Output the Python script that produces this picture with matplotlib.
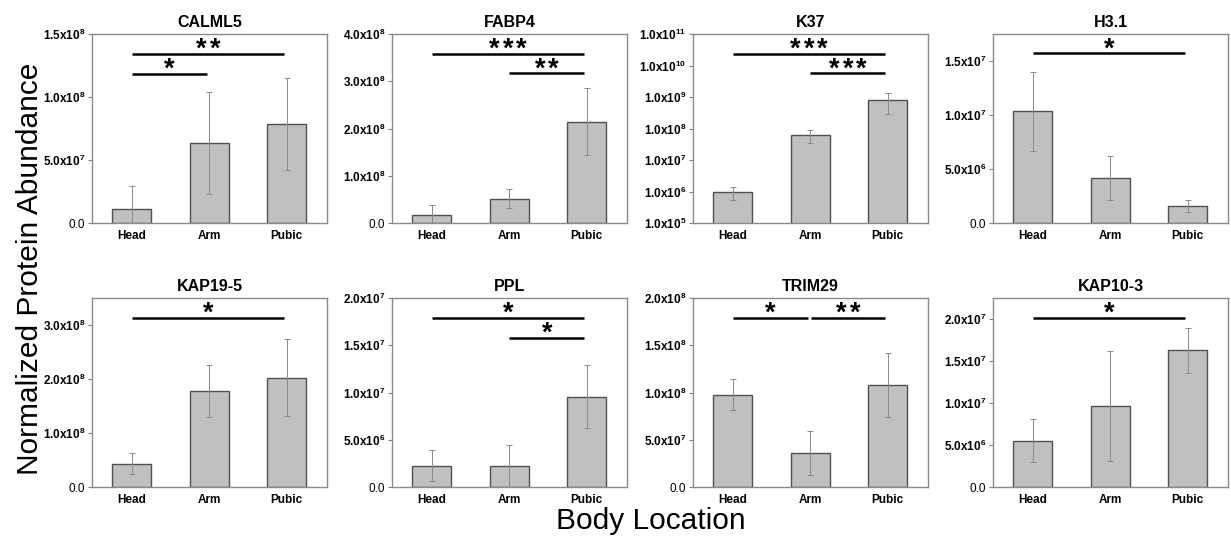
import matplotlib
matplotlib.use("Agg")
import matplotlib.pyplot as plt
from matplotlib.font_manager import FontProperties
from matplotlib.textpath import TextPath
import numpy as np

plt.rcParams['font.family'] = ['Liberation Sans', 'DejaVu Sans']
plt.rcParams['mathtext.fontset'] = 'custom'
plt.rcParams['mathtext.rm'] = 'Liberation Sans'
plt.rcParams['mathtext.bf'] = 'Liberation Sans:bold'

categories = ["Head", "Arm", "Pubic"]

proteins = ["CALML5", "FABP4", "K37", "H3.1", "KAP19-5", "PPL", "TRIM29", "KAP10-3"]

calml5_mean = [1.11e7, 6.35e7, 7.86e7]
calml5_err = [1.8e7, 4.05e7, 3.65e7]
fabp4_mean = [1.62e7, 5.15e7, 2.14e8]
fabp4_err = [2.2e7, 2.0e7, 7.1e7]
k37_mean = [9.6e5, 6.22e7, 8.03e8]
k37_err = [4.1e5, 2.7e7, 5.15e8]
h31_mean = [1.034e7, 4.14e6, 1.54e6]
h31_err = [3.67e6, 2.02e6, 0.56e6]
kap195_mean = [4.32e7, 1.772e8, 2.025e8]
kap195_err = [1.95e7, 4.8e7, 7.15e7]
ppl_mean = [2.26e6, 2.22e6, 9.56e6]
ppl_err = [1.62e6, 2.19e6, 3.3e6]
trim29_mean = [9.77e7, 3.6e7, 1.076e8]
trim29_err = [1.64e7, 2.28e7, 3.4e7]
kap103_mean = [5.52e6, 9.64e6, 1.627e7]
kap103_err = [2.54e6, 6.5e6, 2.7e6]

means = [calml5_mean, fabp4_mean, k37_mean, h31_mean,
         kap195_mean, ppl_mean, trim29_mean, kap103_mean]
errs = [calml5_err, fabp4_err, k37_err, h31_err,
        kap195_err, ppl_err, trim29_err, kap103_err]

# y limits and ticks
ylims = [(0, 1.5e8), (0, 4.0e8), (1e5, 1e11), (0, 1.75e7),
         (0, 3.5e8), (0, 2.0e7), (0, 2.0e8), (0, 2.25e7)]
yticks = [
    [0, 5e7, 1e8, 1.5e8],
    [0, 1e8, 2e8, 3e8, 4e8],
    [1e5, 1e6, 1e7, 1e8, 1e9, 1e10, 1e11],
    [0, 5e6, 1e7, 1.5e7],
    [0, 1e8, 2e8, 3e8],
    [0, 5e6, 1e7, 1.5e7, 2e7],
    [0, 5e7, 1e8, 1.5e8, 2e8],
    [0, 5e6, 1e7, 1.5e7, 2e7],
]
log_scale = [False, False, True, False, False, False, False, False]

# significance brackets: (start index, end index, height, stars)
sig = [
    [(0, 2, 1.341e8, "**"), (0, 1, 1.185e8, "*")],
    [(0, 2, 3.58e8, "***"), (1, 2, 3.17e8, "**")],
    [(0, 2, 2.38e10, "***"), (1, 2, 5.64e9, "***")],
    [(0, 2, 1.571e7, "*")],
    [(0, 2, 3.13e8, "*")],
    [(0, 2, 1.788e7, "*"), (1, 2, 1.58e7, "*")],
    [(0, 1, 1.788e8, "*"), (1, 2, 1.788e8, "**")],
    [(0, 2, 2.012e7, "*")],
]


def fmt_tick(v):
    if v == 0:
        return "0.0"
    e = int(np.floor(np.log10(v) + 1e-9))
    m = v / 10 ** e
    return r"$\mathbf{%.1fx10^{%d}}$" % (m, e)


DPI = 100
fig = plt.figure(figsize=(12.31, 5.37), dpi=DPI)
W, H = 1231, 537
lefts = [92, 392, 693, 993]
top_rows = [(34, 223), (298, 487)]
axw = 235

# star glyph metrics
star_fp = FontProperties(family='Liberation Sans', weight='bold')
ext = TextPath((0, 0), '*', size=1, prop=star_fp).get_extents()
star_h_px = 10.0
star_size_px = star_h_px / (ext.y1 - ext.y0)
star_fontsize = star_size_px * 72 / DPI
star_gap_px = 5.5      # glyph bottom above line centre
star_step_px = 13.5    # centre-to-centre spacing
px2pt = 72 / DPI
glyph_cx = (ext.x0 + ext.x1) / 2 * star_size_px

for k in range(8):
    r, c = divmod(k, 4)
    t, b = top_rows[r]
    ax = fig.add_axes([lefts[c] / W, 1 - b / H, axw / W, (b - t) / H])
    x = np.arange(len(categories))
    if log_scale[k]:
        ax.set_yscale('log')
    ax.bar(x, means[k], width=0.5, color='#c0c0c0', edgecolor='#505050',
           linewidth=1.0, zorder=2)
    ax.errorbar(x, means[k], yerr=errs[k], fmt='none', ecolor='#8a8a8a',
                elinewidth=0.7, capsize=2, capthick=0.7, zorder=3)
    ax.set_xlim(-0.51, 2.52)
    ax.set_ylim(*ylims[k])
    ax.set_yticks(yticks[k])
    ax.set_yticklabels([fmt_tick(v) for v in yticks[k]])
    ax.minorticks_off()
    ax.set_xticks(x)
    ax.set_xticklabels(categories, fontweight='bold')
    ax.tick_params(axis='x', length=0, labelsize=8.5, pad=5)
    ax.tick_params(axis='y', length=3, width=0.8, color='#808080',
                   labelsize=8.5, pad=2)
    for s in ax.spines.values():
        s.set_color('#8a8a8a')
        s.set_linewidth(1.0)
    ax.set_title(proteins[k], fontsize=11.5, fontweight='bold', pad=5)
    for (i, j, h, stars) in sig[k]:
        x1 = i + (0.015 if i > 0 and k == 6 else 0.0)
        x2 = j - 0.03
        ax.plot([x1, x2], [h, h], color='black', lw=1.8, zorder=4,
                solid_capstyle='butt')
        n = len(stars)
        for m in range(n):
            dx_px = (m - (n - 1) / 2) * star_step_px - glyph_cx
            dy_px = star_gap_px - ext.y0 * star_size_px
            ax.annotate('*', xy=((x1 + x2) / 2, h),
                        xytext=(dx_px * px2pt, dy_px * px2pt),
                        textcoords='offset points', ha='left', va='baseline',
                        fontsize=star_fontsize, fontproperties=None,
                        fontweight='bold', family='Liberation Sans',
                        zorder=4)

fig.text(30 / W, 0.5, "Normalized Protein Abundance", rotation=90,
         ha='center', va='center', fontsize=21.5)
fig.text(651 / W, 1 - 521 / H, "Body Location", ha='center', va='center',
         fontsize=21.5)

fig.savefig("out.png", dpi=DPI)
